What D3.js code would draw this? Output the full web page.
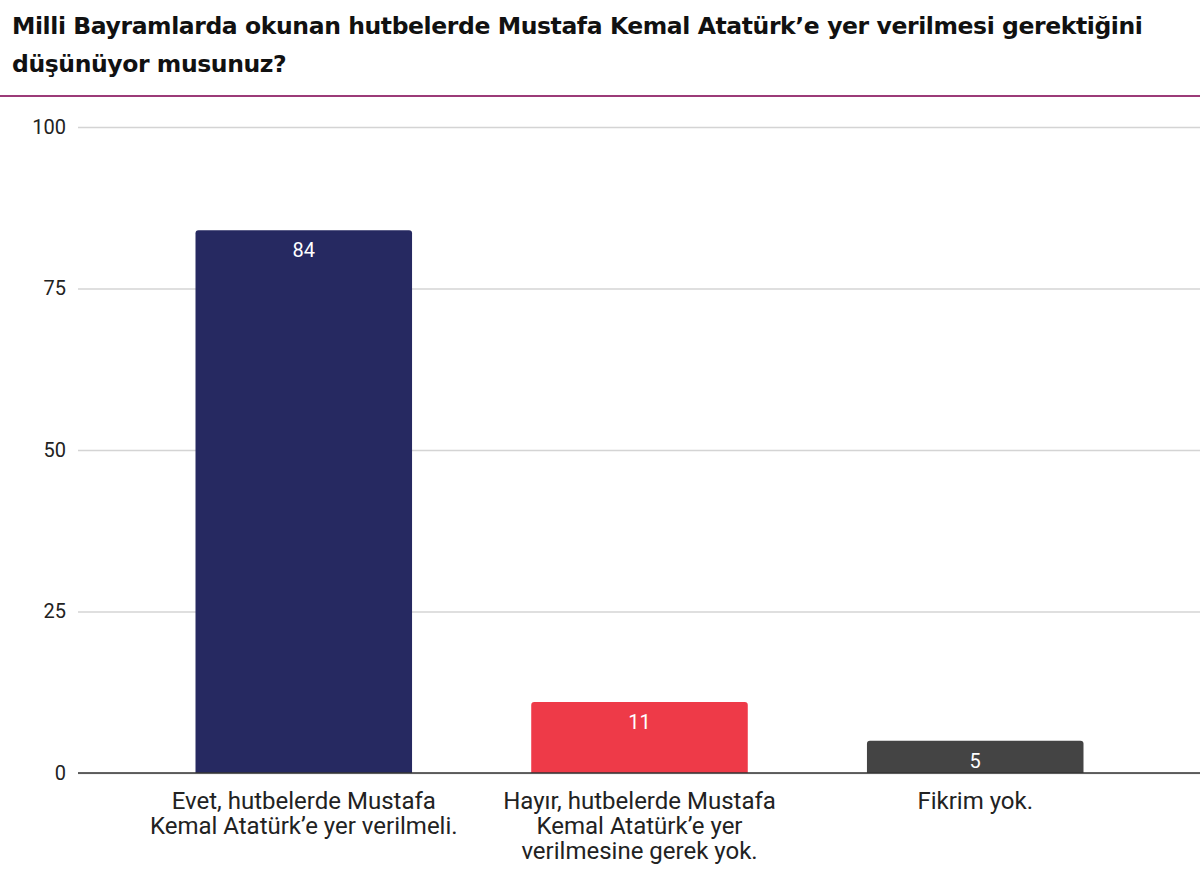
<!DOCTYPE html>
<html>
<head>
<meta charset="utf-8">
<script src="https://cdn.jsdelivr.net/npm/d3@7"></script>
<style>
  body { margin: 0; background: #fff; }
  svg { display: block; }
</style>
</head>
<body>
<svg id="chart" width="1200" height="872"></svg>
<script>
const titleLines = [
  'Milli Bayramlarda okunan hutbelerde Mustafa Kemal Atatürk’e yer verilmesi gerektiğini',
  'düşünüyor musunuz?'
]
const categories = [
  'Evet, hutbelerde Mustafa\nKemal Atatürk’e yer verilmeli.',
  'Hayır, hutbelerde Mustafa\nKemal Atatürk’e yer\nverilmesine gerek yok.',
  'Fikrim yok.'
]
const values = [84, 11, 5]
const barColors = ['#262961', '#ee3a48', '#444444']
const yTicks = [0, 25, 50, 75, 100]

const svg = d3.select('#chart')

// title, sized so the first line runs to ~1137px
const title = svg.append('g')
  .selectAll('text')
  .data(titleLines)
  .join('text')
  .attr('x', 12)
  .attr('y', (d, i) => 34 + i * 38)
  .attr('font-family', '"DejaVu Sans", sans-serif')
  .attr('font-weight', 'bold')
  .attr('font-size', 20)
  .attr('letter-spacing', -0.4)
  .attr('fill', '#111')
  .text(d => d)
const w0 = title.node().getComputedTextLength()
title.attr('font-size', 20 * 1125 / w0)

svg.append('line')
  .attr('x1', 0).attr('x2', 1200)
  .attr('y1', 96).attr('y2', 96)
  .attr('stroke', '#9c3b78')
  .attr('stroke-width', 2)

const x = d3.scaleBand()
  .domain(categories)
  .range([78, 1201])
  .paddingInner(0.355)
  .paddingOuter(0.35)

const y = d3.scaleLinear()
  .domain([0, 100])
  .range([773, 127])

// gridlines + tick labels
const yAxis = svg.append('g')
  .attr('transform', 'translate(78,0)')
  .call(d3.axisLeft(y).tickValues(yTicks).tickSize(-1122).tickPadding(12))
yAxis.select('.domain').remove()
yAxis.selectAll('.tick line')
  .attr('stroke', '#d4d4d4')
  .attr('stroke-width', 1.5)
yAxis.selectAll('.tick text')
  .attr('font-family', 'Roboto, sans-serif')
  .attr('font-size', 20)
  .attr('fill', '#222')

// bars with rounded top corners
function barPath(x0, w, yTop, yBase, r) {
  return `M ${x0} ${yBase} L ${x0} ${yTop + r} Q ${x0} ${yTop} ${x0 + r} ${yTop}` +
    ` L ${x0 + w - r} ${yTop} Q ${x0 + w} ${yTop} ${x0 + w} ${yTop + r} L ${x0 + w} ${yBase} Z`
}

svg.append('g')
  .selectAll('path')
  .data(values)
  .join('path')
  .attr('d', (d, i) => barPath(x(categories[i]), x.bandwidth(), y(d), y(0), 3))
  .attr('fill', (d, i) => barColors[i])

svg.append('g')
  .selectAll('text')
  .data(values)
  .join('text')
  .attr('x', (d, i) => x(categories[i]) + x.bandwidth() / 2)
  .attr('y', d => y(d) + 27)
  .attr('text-anchor', 'middle')
  .attr('font-family', 'Roboto, sans-serif')
  .attr('font-size', 20)
  .attr('fill', '#fff')
  .text(d => d)

// baseline on top of bars
svg.append('line')
  .attr('x1', 78).attr('x2', 1200)
  .attr('y1', y(0)).attr('y2', y(0))
  .attr('stroke', '#333')
  .attr('stroke-width', 1.5)

// category labels
const catText = svg.append('g')
  .selectAll('text')
  .data(categories)
  .join('text')
  .attr('text-anchor', 'middle')
  .attr('font-family', 'Roboto, sans-serif')
  .attr('font-size', 24)
  .attr('fill', '#222')

catText.each(function (d) {
  const cx = x(d) + x.bandwidth() / 2
  d3.select(this).selectAll('tspan')
    .data(d.split('\n'))
    .join('tspan')
    .attr('x', cx)
    .attr('y', (l, i) => 809 + i * 25)
    .text(l => l)
})
</script>
</body>
</html>
